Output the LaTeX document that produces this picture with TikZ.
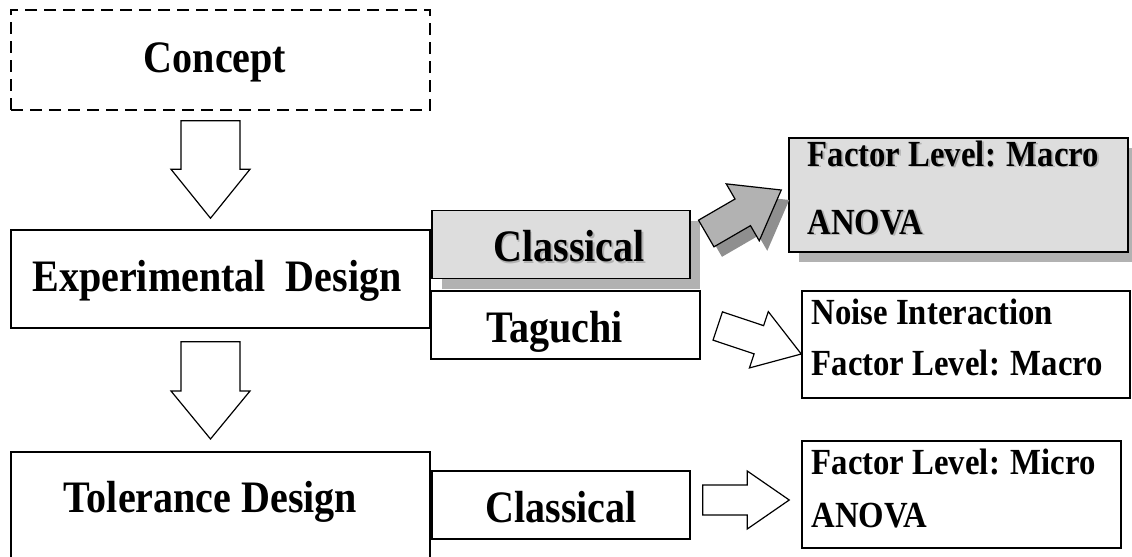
\documentclass[tikz,border=0pt]{standalone}
\usepackage{fontspec}
\setmainfont{Liberation Serif}[FakeStretch=0.89]
\usetikzlibrary{calc,shadows}

\definecolor{boxgray}{HTML}{DDDDDD}
\definecolor{shadowgray}{HTML}{B2B2B2}
\definecolor{arrowgray}{HTML}{B2B2B2}
\definecolor{arrowshadow}{HTML}{8F8F8F}

% text with a light grey shadow
\newcommand{\shtext}[1]{\makebox[0pt][l]{\hspace{0.8pt}\raisebox{-0.8pt}{\textcolor{shadowgray}{#1}}}#1}

% block arrow: style, tail, tip, half shaft, half head, head length
\newcommand{\blockarrow}[6]{%
  \coordinate (#3-b) at ($(#3)!#6!(#2)$);
  \draw[#1] ($(#2)!#4!90:(#3)$) -- ($(#3-b)!#4!-90:(#2)$) -- ($(#3-b)!#5!-90:(#2)$)
    -- (#3) -- ($(#3-b)!#5!90:(#2)$) -- ($(#3-b)!#4!90:(#2)$) -- ($(#2)!#4!-90:(#3)$) -- cycle;
}

\begin{document}
\begin{tikzpicture}[x=0.5pt, y=-0.5pt,
    mainbox/.style={draw, line width=0.75pt, inner sep=0pt, minimum width=209.5pt,
      font=\fontsize{22.5}{27}\selectfont\bfseries, text height=16.5pt, text depth=4pt},
    midbox/.style={mainbox, minimum width=129pt, minimum height=34pt, text height=21pt},
    greybox/.style={fill=boxgray, drop shadow={shadow xshift=5pt, shadow yshift=-5pt,
      fill=shadowgray, opacity=1}},
    resbox/.style={draw, line width=0.75pt, inner sep=0pt},
    restext/.style={anchor=base west, inner sep=0pt, font=\fontsize{18.4}{22}\selectfont\bfseries},
    blockarr/.style={draw, line width=0.6pt, fill=white}]
  \clip (0,0) rectangle (1132,557);
  % Draw the left column
  \node[mainbox, dash pattern=on 6pt off 3.5pt, minimum height=50pt] (concept) at (220.5,60) {Concept\kern5.5pt};
  \node[mainbox, minimum height=49pt] (expdesign) at (220.5,279) {Experimental\ \ Design\kern3.5pt};
  \node[mainbox, anchor=north, inner ysep=14pt, text depth=50pt] (toldesign) at (220.5,451) {Tolerance Design\kern10pt};
  % Draw the methods
  \node[midbox, greybox] (classical) at (561,244.5) {\kern8pt\shtext{Classical}};
  \node[midbox, minimum width=134.5pt] (taguchi) at (565.5,325) {Taguchi\kern11pt};
  \node[midbox] (classical2) at (561,505) {Classical};
  % Draw the results
  \node[resbox, greybox, minimum width=169.5pt, minimum height=57pt] (macro) at (958.5,195) {};
  \node[restext] (macro1) at ($(macro.north west)+(19,29)$) {\shtext{Factor Level: Macro}};
  \node[restext] (macro2) at ($(macro.north west)+(19,97)$) {\shtext{ANOVA}};
  \node[resbox, minimum width=164pt, minimum height=53.5pt] (noise) at (966,344.5) {};
  \node[restext] (noise1) at ($(noise.north west)+(10,34)$) {Noise Interaction};
  \node[restext] (noise2) at ($(noise.north west)+(10,85)$) {Factor Level: Macro};
  \node[resbox, minimum width=159.5pt, minimum height=53.5pt] (micro) at (961.5,494.5) {};
  \node[restext] (micro1) at ($(micro.north west)+(10,34)$) {Factor Level: Micro};
  \node[restext] (micro2) at ($(micro.north west)+(10,87)$) {ANOVA};
  % Draw the arrows
  \coordinate (arr1s) at ($(concept.south)+(-10,10)$);
  \coordinate (arr1e) at ($(expdesign.north)+(-10,-11)$);
  \coordinate (arr2s) at ($(expdesign.south)+(-10,13)$);
  \coordinate (arr2e) at ($(toldesign.north)+(-10,-12)$);
  \coordinate (arr3s) at ($(classical.east)+(15.5,-11)$);
  \coordinate (arr3e) at ($(macro.west)+(-7,-5)$);
  \coordinate (arr4s) at ($(taguchi.east)+(17,1)$);
  \coordinate (arr4e) at ($(noise.west)+(0,9.5)$);
  \coordinate (arr5s) at ($(classical2.east)+(12,-5)$);
  \coordinate (arr5e) at ($(micro.west)+(-12,5.5)$);
  \blockarrow{blockarr}{arr1s}{arr1e}{14.75pt}{19.75pt}{24.5pt}
  \blockarrow{blockarr}{arr2s}{arr2e}{14.75pt}{19.75pt}{24pt}
  \blockarrow{blockarr, fill=arrowgray, drop shadow={shadow xshift=4pt, shadow yshift=-5pt,
    fill=arrowshadow, opacity=1}}{arr3s}{arr3e}{7.7pt}{16.45pt}{22.25pt}
  \blockarrow{blockarr}{arr4s}{arr4e}{7.45pt}{14.85pt}{22.35pt}
  \blockarrow{blockarr}{arr5s}{arr5e}{7.5pt}{14.5pt}{21pt}
\end{tikzpicture}
\end{document}
